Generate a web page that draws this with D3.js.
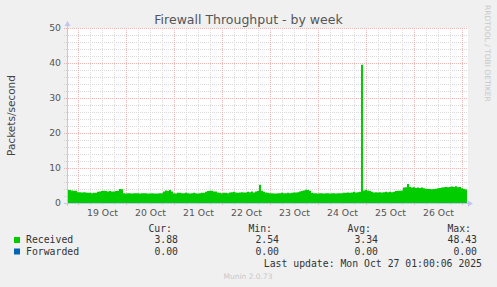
<!DOCTYPE html>
<html>
<head>
<meta charset="utf-8">
<script src="https://cdn.jsdelivr.net/npm/d3@7"></script>
<style>
body{margin:0;background:#f0f0f0;}
svg{display:block;font-family:"DejaVu Sans",sans-serif;}
.mono{font-family:"DejaVu Sans Mono",monospace;font-size:9.8px;fill:#333;}
</style>
</head>
<body>
<script>
// hourly packets/second
var received=[3.7,3.7,3.6,3.5,3.5,3.1,3.1,3.0,3.1,3.0,
2.9,2.9,2.8,2.9,2.9,3.2,3.3,3.4,3.5,3.4,3.3,3.4,3.3,3.3,3.4,3.5,4.0,3.9,
2.8,2.7,2.8,2.8,2.7,2.8,2.8,2.8,2.7,2.8,2.8,2.8,
2.7,2.7,2.8,2.7,2.7,2.7,2.8,2.8,3.3,3.6,3.4,3.7,3.3,
2.8,2.7,2.9,2.9,2.8,2.8,2.9,2.8,2.7,2.8,2.9,2.8,2.7,2.8,2.9,2.9,
3.2,3.4,3.5,3.5,3.3,3.3,3.0,2.9,2.8,2.9,2.9,2.8,3.0,
3.1,3.2,3.0,2.9,3.0,3.1,3.0,3.0,3.2,3.1,3.3,3.0,3.3,3.4,5.2,
3.5,3.2,3.0,2.9,2.8,2.8,2.7,2.7,2.8,2.8,2.9,2.8,2.8,2.9,2.8,2.9,3.0,
3.0,3.1,3.3,3.4,3.6,3.8,3.7,3.5,
2.9,2.8,2.8,2.7,2.8,2.8,2.7,2.8,2.8,2.7,2.8,2.8,2.7,2.8,2.8,2.8,2.9,2.9,3.0,2.9,3.0,3.2,3.0,
3.1,3.2,39.5,3.6,3.8,3.6,3.4,3.2,
3.0,3.1,3.0,3.1,3.0,3.1,3.2,3.1,3.2,3.1,3.2,3.4,3.5,3.5,3.6,
4.4,4.5,5.4,4.6,4.4,4.5,4.3,4.4,4.3,4.4,4.2,
4.1,4.0,4.0,3.9,4.0,4.1,4.2,4.3,4.4,4.5,4.6,4.5,4.6,4.7,4.6,4.8,4.5,4.6,
4.2,4.0,3.88];
var yTicks=[0,10,20,30,40,50];
var dayLabels=["19 Oct","20 Oct","21 Oct","22 Oct","23 Oct","24 Oct","25 Oct","26 Oct"];
var legendNames=["Received","Forwarded"];
var legendColors=["#00cc00","#0066b3"];
var statHeads=["Cur:","Min:","Avg:","Max:"];
var statReceived=["3.88","2.54","3.34","48.43"];
var statForwarded=["0.00","0.00","0.00","0.00"];
var lastUpdate="Last update: Mon Oct 27 01:00:06 2025";

var W=497,H=287;
var pL=67,pR=467,pT=28,pB=203;
var start=new Date(2025,9,18,18,30), end=new Date(2025,9,27,2,30);

var svg=d3.select("body").append("svg").attr("width",W).attr("height",H);
svg.append("rect").attr("width",W).attr("height",H).attr("fill","#f0f0f0");

var x=d3.scaleTime().domain([start,end]).range([pL,pR]);
var y=d3.scaleLinear().domain([0,50]).range([pB,pT]);

svg.append("rect").attr("x",pL).attr("y",pT).attr("width",pR-pL+1).attr("height",pB-pT).attr("fill","#fff");

// grid: minor then major
var minorY=d3.range(0,51,2).filter(v=>v%10);
var minorX=d3.timeHour.every(6).range(start,end).filter(d=>d.getHours()!=0);
var majorX=d3.timeDay.range(start,end);
var minorCol="#d9d9d9", majorCol="#f0b4b4";

var grid=svg.append("g").attr("shape-rendering","crispEdges").attr("stroke-dasharray","1,1");
grid.selectAll(".hmin").data(minorY).enter().append("line")
	.attr("x1",pL-3).attr("x2",pR).attr("y1",d=>Math.round(y(d))+0.5).attr("y2",d=>Math.round(y(d))+0.5)
	.attr("stroke",minorCol);
grid.selectAll(".vmin").data(minorX).enter().append("line")
	.attr("y1",pT).attr("y2",pB+3).attr("x1",d=>Math.round(x(d))+0.5).attr("x2",d=>Math.round(x(d))+0.5)
	.attr("stroke",minorCol);
grid.selectAll(".hmaj").data(yTicks).enter().append("line")
	.attr("x1",pL-3).attr("x2",pR).attr("y1",d=>Math.round(y(d))+0.5).attr("y2",d=>Math.round(y(d))+0.5)
	.attr("stroke",majorCol);
grid.selectAll(".vmaj").data(majorX).enter().append("line")
	.attr("y1",pT).attr("y2",pB+3).attr("x1",d=>Math.round(x(d))+0.5).attr("x2",d=>Math.round(x(d))+0.5)
	.attr("stroke",majorCol);

// received area
var pts=received.map((v,i)=>({t:d3.timeHour.offset(start,i),v:v}));
pts.push({t:end,v:received[received.length-1]});
var area=d3.area().curve(d3.curveStepAfter).x(d=>x(d.t)).y0(y(0)).y1(d=>y(d.v));
svg.append("path").datum(pts).attr("d",area).attr("fill",legendColors[0]);

// axes lines with arrows
var ax="#c4c4f2";
svg.append("line").attr("x1",pL+0.5).attr("x2",pL+0.5).attr("y1",pB+3).attr("y2",pT-4).attr("stroke",ax).attr("shape-rendering","crispEdges");
svg.append("line").attr("x1",pL-3).attr("x2",pR+3).attr("y1",pB+0.5).attr("y2",pB+0.5).attr("stroke",ax).attr("shape-rendering","crispEdges");
svg.append("path").attr("d","M"+(pL-2.5)+","+(pT-2)+"L"+(pL+3.5)+","+(pT-2)+"L"+(pL+0.5)+","+(pT-7)+"Z").attr("fill",ax);
svg.append("path").attr("d","M"+(pR+1)+","+(pB-2.5)+"L"+(pR+1)+","+(pB+3.5)+"L"+(pR+6)+","+(pB+0.5)+"Z").attr("fill",ax);

// tick labels
svg.append("g").attr("transform","translate("+pL+",0)")
	.call(d3.axisLeft(y).tickValues(yTicks).tickSize(0).tickPadding(6));
svg.append("g").attr("transform","translate(0,"+pB+")")
	.call(d3.axisBottom(x).tickValues(d3.timeDay.range(new Date(2025,9,19),new Date(2025,9,27)).map(d=>d3.timeHour.offset(d,12)))
		.tickFormat((d,i)=>dayLabels[i]).tickSize(0).tickPadding(6));
svg.selectAll(".domain").remove();
svg.selectAll(".tick text").attr("font-family","DejaVu Sans").attr("font-size","9.3px").attr("fill","#555");

// titles
svg.append("text").attr("x",248.5).attr("y",24).attr("text-anchor","middle")
	.attr("font-size","12.5px").attr("fill","#555").text("Firewall Throughput - by week");
svg.append("text").attr("transform","translate(15,"+((pT+pB)/2)+") rotate(-90)").attr("text-anchor","middle")
	.attr("font-size","10.5px").attr("fill","#444").text("Packets/second");
svg.append("text").attr("transform","translate(485,5) rotate(90)")
	.attr("font-size","7.5px").attr("fill","#c8c8c8").text("RRDTOOL / TOBI OETIKER");

// legend
var headX=[172,272,371,471], valX=[178,279,378,477];
svg.selectAll(".head").data(statHeads).enter().append("text").attr("class","mono")
	.attr("x",(d,i)=>headX[i]).attr("y",231.5).attr("text-anchor","end").text(d=>d);
[statReceived,statForwarded].forEach(function(row,r){
	var yy=243+r*11.5;
	svg.append("rect").attr("x",14).attr("y",yy-6).attr("width",6).attr("height",6).attr("fill",legendColors[r]);
	svg.append("text").attr("class","mono").attr("x",26).attr("y",yy).text(legendNames[r]);
	svg.selectAll(".v"+r).data(row).enter().append("text").attr("class","mono")
		.attr("x",(d,i)=>valX[i]).attr("y",yy).attr("text-anchor","end").text(d=>d);
});
svg.append("text").attr("class","mono").attr("x",482).attr("y",266.5).attr("text-anchor","end").text(lastUpdate);
svg.append("text").attr("x",248).attr("y",279).attr("text-anchor","middle")
	.attr("font-size","7.5px").attr("fill","#c8c8c8").text("Munin 2.0.73");
</script>
</body>
</html>
